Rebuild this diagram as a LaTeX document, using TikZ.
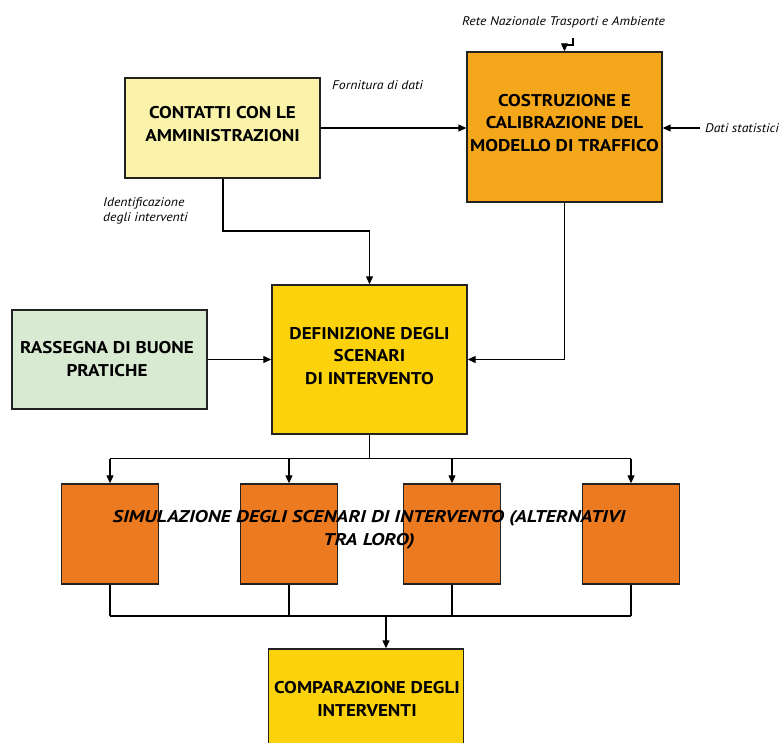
\documentclass[tikz,border=0pt]{standalone}
\usepackage{fontspec}
\setmainfont{PT Sans}
\newfontfamily\boxfont{PT Sans}[FakeStretch=1.12]
\newfontfamily\simfont{PT Sans}[FakeStretch=1.2]
\newfontfamily\labfont{PT Sans}[FakeStretch=1.1]
\usetikzlibrary{arrows.meta,calc}
\definecolor{cLight}{HTML}{FAF3A9}
\definecolor{cCost}{HTML}{F5A71C}
\definecolor{cDef}{HTML}{FCD20C}
\definecolor{cRas}{HTML}{D9EAD3}
\definecolor{cOr}{HTML}{EC7A20}
\definecolor{cEdge}{HTML}{222222}
\tikzset{
  box/.style={draw=cEdge, line width=1.4pt, inner sep=0pt},
  btxt/.style={align=center, inner sep=0pt, font=\boxfont\fontsize{17}{22.5}\selectfont\bfseries},
  lab/.style={font=\labfont\fontsize{12.5}{15.5}\selectfont\itshape, inner sep=0pt, align=left},
  arr/.style={line width=1.2pt, -{Triangle[length=8pt,width=7pt]}},
  ln/.style={line width=1.2pt},
}
\begin{document}
\begin{tikzpicture}[x=1pt,y=-1pt]
\useasboundingbox (0,0) rectangle (779,742);
\begin{scope}
\clip (0,0) rectangle (779,742);
% boxes
\node[box, fill=cLight, minimum width=195pt, minimum height=100pt] (contatti) at (222.5,128) {};
\node[btxt] (contattiT) at (222.5,124) {CONTATTI CON LE\\AMMINISTRAZIONI};
\node[box, fill=cCost, minimum width=195pt, minimum height=150pt] (costr) at (564.5,127) {};
\node[btxt] (costrT) at (564.5,123) {COSTRUZIONE E\\CALIBRAZIONE DEL\\MODELLO DI TRAFFICO};
\node[box, fill=cDef, minimum width=195pt, minimum height=149pt] (defin) at (369.5,359.5) {};
\node[btxt] (definT) at (369.5,356) {DEFINIZIONE DEGLI\\SCENARI\\DI INTERVENTO};
\node[box, fill=cRas, minimum width=195pt, minimum height=99pt] (rass) at (109.5,359.5) {};
\node[btxt] (rassT) at (107,359) {RASSEGNA DI BUONE\\PRATICHE};
% simulation boxes
\node[box, fill=cOr, minimum width=97pt, minimum height=100pt] (s1) at (110,534) {};
\node[box, fill=cOr, minimum width=97pt, minimum height=100pt] (s2) at (289,534) {};
\node[box, fill=cOr, minimum width=97pt, minimum height=100pt] (s3) at (452,534) {};
\node[box, fill=cOr, minimum width=97pt, minimum height=100pt] (s4) at (631,534) {};
\node[btxt, font=\simfont\fontsize{17}{22.5}\selectfont\bfseries\itshape] (simT) at (369,530) {SIMULAZIONE DEGLI SCENARI DI INTERVENTO (ALTERNATIVI\\TRA LORO)};
% comparazione (cut by the page edge)
\node[box, fill=cDef, minimum width=195pt, minimum height=130pt] (comp) at (366,714) {};
\node[btxt] (compT) at (367,699) {COMPARAZIONE DEGLI\\INTERVENTI};
% labels
\node[lab, anchor=west] (rete) at (462,22) {Rete Nazionale Trasporti e Ambiente};
\node[lab, anchor=west] (forn) at (332,85) {Fornitura di dati};
\node[lab, anchor=west] (dati) at (705,128) {Dati statistici};
\node[lab, anchor=west] (ident) at (103,211) {Identificazione\\degli interventi};
% connectors
\coordinate (hookA) at (573,38);
\coordinate (hookB) at (573,45);
\draw[arr] (hookA) -- (hookB) -- (hookB -| costr.north) -- (costr.north);
\draw[arr] (contatti.east) -- (costr.west |- contatti.east);
\draw[arr] ([xshift=-5pt]dati.west) -- (costr.east |- dati.west);
\coordinate (c1) at (223,231);
\draw[arr] (contatti.south -| c1) -- (c1) -| (defin.north);
\draw[arr] (costr.south) |- (defin.east);
\draw[arr] (rass.east) -- (defin.west);
\coordinate (split) at (369.5,458.5);
\draw[ln] (defin.south) -- (split);
\draw[ln] (split -| s1.north) -- (split -| s4.north);
\foreach \s in {s1,s2,s3,s4} {\draw[arr] (split -| \s.north) -- (\s.north);}
\coordinate (join) at (386,616);
\foreach \s in {s1,s2,s3,s4} {\draw[ln] (\s.south) -- (join -| \s.south);}
\draw[ln] (join -| s1.south) -- (join -| s4.south);
\draw[arr] (join) -- (join |- comp.north);
\end{scope}
\end{tikzpicture}
\end{document}
